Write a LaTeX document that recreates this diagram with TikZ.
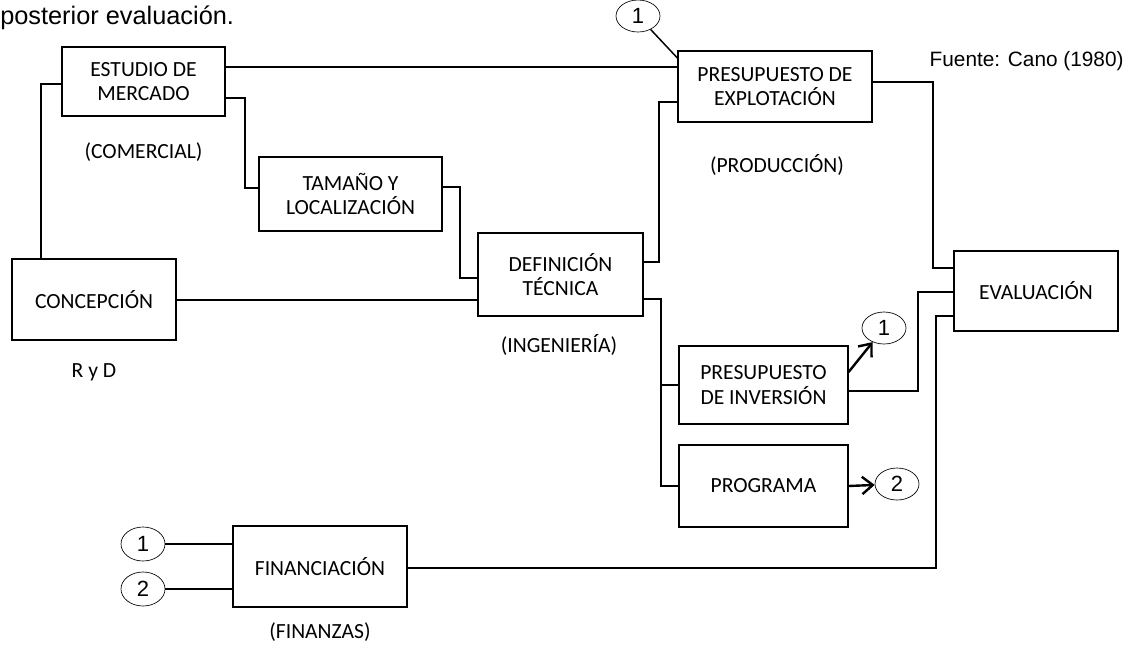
\documentclass[tikz,border=0pt]{standalone}
\usepackage{fontspec}
\setmainfont{Carlito}
\newfontfamily\arialfont{Liberation Sans}
\usepackage{tikz}
\usetikzlibrary{shapes.geometric, arrows.meta}

\begin{document}
\begin{tikzpicture}[x=0.75pt, y=-0.75pt,
        box/.style={rectangle, draw=black, line width=0.9pt, inner sep=0pt, align=center, font=\fontsize{16.2}{18.5}\selectfont},
        tag/.style={font=\fontsize{16.2}{18.5}\selectfont},
        ref/.style={ellipse, draw=black, line width=0.5pt, inner sep=0pt, minimum width=33pt, minimum height=24pt, font=\arialfont\fontsize{16.5}{17}\selectfont},
        conn/.style={line width=1.4pt},
        arr/.style={line width=1.8pt, -{Straight Barb[length=8pt, width=13pt]}}
    ]
        \useasboundingbox (0,0) rectangle (1132,647);

        % ================= TEXTOS =================
        \node[anchor=west, inner sep=0pt, font=\arialfont\fontsize{19}{21}\selectfont] (caption) at (0,18) {posterior evaluación.};
        \node[anchor=west, font=\arialfont\fontsize{15.6}{18}\selectfont] (fuente) at (925,61) {Fuente: Cano (1980)};

        % ================= BLOQUES =================
        \node[box, minimum width=122.25pt, minimum height=51.75pt] (estudio) at (143.5,81.5) {ESTUDIO DE\\MERCADO};
        \node[box, minimum width=137.25pt, minimum height=55.5pt] (tamano) at (350.5,194) {TAMAÑO Y\\LOCALIZACIÓN};
        \node[box, minimum width=123.75pt, minimum height=62.25pt] (definicion) at (560.5,274.5) {DEFINICIÓN\\TÉCNICA};
        \node[box, minimum width=123pt, minimum height=60.75pt] (concepcion) at (94,299.5) {CONCEPCIÓN};
        \node[box, minimum width=145.5pt, minimum height=53.25pt] (presupexp) at (775,86.5) {PRESUPUESTO DE\\EXPLOTACIÓN};
        \node[box, minimum width=126.75pt, minimum height=58.5pt] (presupinv) at (763.5,385) {PRESUPUESTO\\DE INVERSIÓN};
        \node[box, minimum width=126.75pt, minimum height=61.5pt] (programa) at (763.5,486) {PROGRAMA};
        \node[box, minimum width=130.5pt, minimum height=60.75pt] (financiacion) at (320,566.5) {FINANCIACIÓN};
        \node[box, minimum width=123pt, minimum height=60pt] (evaluacion) at (1036,291) {EVALUACIÓN};

        \node[tag] (comercial) at (143.5,152) {(COMERCIAL)};
        \node[tag] (produccion) at (777,165) {(PRODUCCIÓN)};
        \node[tag] (ingenieria) at (559,345) {(INGENIERÍA)};
        \node[tag] (ryd) at (94,372) {R y D};
        \node[tag] (finanzas) at (320,632) {(FINANZAS)};

        % ================= REFERENCIAS =================
        \node[ref] (c1top) at (638,16) {1};
        \node[ref] (c1inv) at (884,328) {1};
        \node[ref] (c2prog) at (897,484) {2};
        \node[ref, minimum height=25.5pt] (c1fin) at (143,544) {1};
        \node[ref, minimum height=25.5pt] (c2fin) at (143,589) {2};

        % ================= CONEXIONES =================
        \draw[conn] (concepcion.north west) ++(30,0) |- (estudio.west |- 0,84);
        \draw[conn] (estudio.east |- 0,98) -- (245,98) |- (tamano.west |- 0,188);
        \draw[conn] (tamano.east |- 0,187) -- (460,187) |- (definicion.west |- 0,278);
        \draw[conn] (concepcion.east |- 0,300) -- (definicion.west |- 0,300);
        \draw[conn] (estudio.east |- 0,67) -- (presupexp.west |- 0,67);
        \draw[conn] (definicion.east |- 0,262) -- (659,262) |- (presupexp.west |- 0,102);
        \draw[conn] (definicion.east |- 0,299) -- (661,299) |- (programa.west);
        \draw[conn] (661,385) -- (presupinv.west);
        \draw[conn] (presupexp.east |- 0,82) -- (933,82) |- (evaluacion.west |- 0,268);
        \draw[conn] (presupinv.east |- 0,391) -- (918,391) |- (evaluacion.west |- 0,292);
        \draw[conn] (financiacion.east |- 0,568) -- (936,568) |- (evaluacion.west |- 0,316);

        \draw[line width=1.1pt] (c1top) -- (presupexp.west |- 0,58);
        \draw[arr] (presupinv.east |- 0,372) -- (c1inv);
        \draw[arr] (programa.east) -- (c2prog);
        \draw[conn] (c1fin) -- (financiacion.west |- c1fin);
        \draw[conn] (c2fin) -- (financiacion.west |- c2fin);
    \end{tikzpicture}
\end{document}
